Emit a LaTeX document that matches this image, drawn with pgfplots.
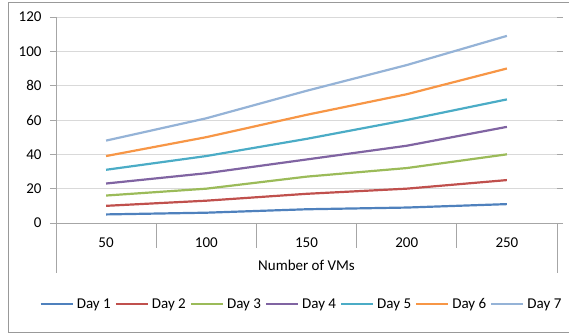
\documentclass[border=0pt]{standalone}
\usepackage{fontspec}
\setmainfont{Carlito}
\usepackage{pgfplots}
\pgfplotsset{compat=1.18}
\definecolor{d1}{HTML}{4F81BD}
\definecolor{d2}{HTML}{C0504D}
\definecolor{d3}{HTML}{9BBB59}
\definecolor{d4}{HTML}{8064A2}
\definecolor{d5}{HTML}{4BACC6}
\definecolor{d6}{HTML}{F79646}
\definecolor{d7}{HTML}{95B3D7}
\definecolor{axgray}{HTML}{A6A6A6}
\definecolor{gridgray}{HTML}{D9D9D9}
\begin{document}
\begin{tikzpicture}
\draw[color=gray!80, line width=0.8bp] (575bp,1.5bp) -- (8bp,1.5bp) -- (8bp,331.5bp) -- (575bp,331.5bp);
\begin{axis}[
  at={(56bp,111bp)}, anchor=south west,
  scale only axis, width=501bp, height=206bp,
  clip=false,
  font=\fontsize{15bp}{17bp}\selectfont,
  /pgf/number format/assume math mode=true,
  xmin=0.5, xmax=5.5, ymin=0, ymax=120,
  xtick={1,2,3,4,5}, xticklabels={50,100,150,200,250},
  ytick={0,20,40,60,80,100,120},
  x tick style={draw=none},
  y tick style={draw=axgray, line width=0.8bp},
  tick align=outside, major tick length=6bp,
  axis line style={draw=none},
  ymajorgrids, grid style={draw=gridgray, line width=0.8bp},
  xticklabel style={yshift=-5.5bp},
  yticklabel style={xshift=-5bp},
  xlabel={Number of VMs},
  x label style={at={(axis description cs:0.5,0)}, anchor=center, yshift=-42bp},
  legend columns=7,
  legend style={at={(axis description cs:0.49,0)}, anchor=center, yshift=-81bp,
    draw=none, fill=none, font=\fontsize{15bp}{17bp}\selectfont, inner sep=0pt,
    /tikz/every odd column/.append style={column sep=1bp},
    /tikz/every even column/.append style={column sep=2bp}},
  legend image code/.code={\draw[#1, line width=2.2bp] (0bp,0bp) -- (32bp,0bp);},
  every axis plot/.append style={line width=2.2bp, mark=none},
]
\addplot[d1] coordinates {(1,5) (2,6) (3,8) (4,9) (5,11)};
\addplot[d2] coordinates {(1,10) (2,13) (3,17) (4,20) (5,25)};
\addplot[d3] coordinates {(1,16) (2,20) (3,27) (4,32) (5,40)};
\addplot[d4] coordinates {(1,23) (2,29) (3,37) (4,45) (5,56)};
\addplot[d5] coordinates {(1,31) (2,39) (3,49) (4,60) (5,72)};
\addplot[d6] coordinates {(1,39) (2,50) (3,63) (4,75) (5,90)};
\addplot[d7] coordinates {(1,48) (2,61) (3,77) (4,92) (5,109)};
\legend{Day 1,Day 2,Day 3,Day 4,Day 5,Day 6,Day 7}
% axis frame lines
\draw[axgray, line width=0.8bp] (axis cs:0.5,120) -- ([yshift=-50bp]axis cs:0.5,0);
\draw[axgray, line width=0.8bp] (axis cs:0.5,0) -- (axis cs:5.5,0);
\draw[axgray, line width=0.8bp] (axis cs:5.5,0) -- ([yshift=-50bp]axis cs:5.5,0);
\foreach \xx in {1.5,2.5,3.5,4.5} {
  \edef\tmp{\noexpand\draw[axgray, line width=0.8bp] (axis cs:\xx,0) -- ([yshift=-25bp]axis cs:\xx,0);}
  \tmp
}
\end{axis}
\pgfresetboundingbox
\useasboundingbox (0,0) rectangle (569bp,334bp);
\end{tikzpicture}
\end{document}
